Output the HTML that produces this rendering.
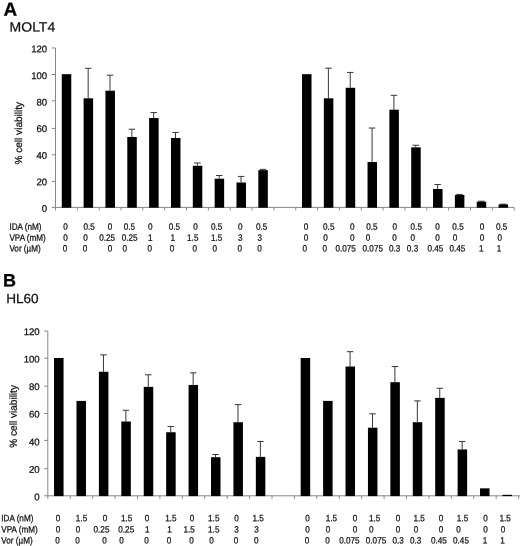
<!DOCTYPE html>
<html lang="en"><head><meta charset="utf-8"><title>Figure</title>
<style>
html,body{margin:0;padding:0;background:#fff;}
body{width:520px;height:546px;overflow:hidden;}
svg{display:block;}
text{font-family:"Liberation Sans",Arial,Helvetica,sans-serif;fill:#111;stroke:#111;stroke-width:0.25px;}
.big{font-weight:bold;fill:#000;}
</style></head><body>
<svg width="520" height="546" viewBox="0 0 520 546">
<defs><filter id="soft" x="0" y="0" width="520" height="546" filterUnits="userSpaceOnUse"><feGaussianBlur stdDeviation="0.35"/></filter></defs>
<rect width="520" height="546" fill="#fff"/>
<g filter="url(#soft)">
<text class="big" font-size="19" transform="translate(3.40 15.85) rotate(0.03) scale(1 1)">A</text>
<text font-size="13.4" transform="translate(9.60 31.55) rotate(0.03) scale(1.045 1)">MOLT4</text>
<path d="M55.5 47.95 V207.4 H514" fill="none" stroke="#868686" stroke-width="1"/>
<path d="M51.80 207.40H55.50M51.80 181.40H55.50M51.80 154.80H55.50M51.80 128.40H55.50M51.80 100.80H55.50M51.80 74.50H55.50M51.80 48.00H55.50M55.50 207.4V210.40M77.34 207.4V210.40M99.18 207.4V210.40M121.02 207.4V210.40M142.86 207.4V210.40M164.70 207.4V210.40M186.54 207.4V210.40M208.38 207.4V210.40M230.22 207.4V210.40M252.06 207.4V210.40M273.90 207.4V210.40M295.74 207.4V210.40M317.58 207.4V210.40M339.42 207.4V210.40M361.26 207.4V210.40M383.10 207.4V210.40M404.94 207.4V210.40M426.78 207.4V210.40M448.62 207.4V210.40M470.46 207.4V210.40M492.30 207.4V210.40M514.14 207.4V210.40" fill="none" stroke="#868686" stroke-width="1"/>
<text text-anchor="end" font-size="9.6" transform="translate(47.20 211.80) rotate(0.03) scale(1.0 1)">0</text>
<text text-anchor="end" font-size="9.6" transform="translate(47.20 185.23) rotate(0.03) scale(1.0 1)">20</text>
<text text-anchor="end" font-size="9.6" transform="translate(47.20 158.65) rotate(0.03) scale(1.0 1)">40</text>
<text text-anchor="end" font-size="9.6" transform="translate(47.20 132.08) rotate(0.03) scale(1.0 1)">60</text>
<text text-anchor="end" font-size="9.6" transform="translate(47.20 105.50) rotate(0.03) scale(1.0 1)">80</text>
<text text-anchor="end" font-size="9.6" transform="translate(47.20 78.93) rotate(0.03) scale(1.0 1)">100</text>
<text text-anchor="end" font-size="9.6" transform="translate(47.20 52.35) rotate(0.03) scale(1.0 1)">120</text>
<rect x="61.77" y="74.17" width="9.5" height="133.53" fill="#000"/>
<path d="M88.16 98.30V68.30M84.96 68.30H91.46" fill="none" stroke="#383838" stroke-width="1"/>
<rect x="83.61" y="98.30" width="9.5" height="109.40" fill="#000"/>
<path d="M110.00 90.70V75.23M106.80 75.23H113.30" fill="none" stroke="#383838" stroke-width="1"/>
<rect x="105.45" y="90.70" width="9.5" height="117.00" fill="#000"/>
<path d="M131.84 136.97V129.23M128.64 129.23H135.14" fill="none" stroke="#383838" stroke-width="1"/>
<rect x="127.29" y="136.97" width="9.5" height="70.73" fill="#000"/>
<path d="M153.68 118.03V112.57M150.48 112.57H156.98" fill="none" stroke="#383838" stroke-width="1"/>
<rect x="149.13" y="118.03" width="9.5" height="89.67" fill="#000"/>
<path d="M175.52 138.03V132.43M172.32 132.43H178.82" fill="none" stroke="#383838" stroke-width="1"/>
<rect x="170.97" y="138.03" width="9.5" height="69.67" fill="#000"/>
<path d="M197.36 165.77V162.97M194.16 162.97H200.66" fill="none" stroke="#383838" stroke-width="1"/>
<rect x="192.81" y="165.77" width="9.5" height="41.93" fill="#000"/>
<path d="M219.20 178.70V175.50M216.00 175.50H222.50" fill="none" stroke="#383838" stroke-width="1"/>
<rect x="214.65" y="178.70" width="9.5" height="29.00" fill="#000"/>
<path d="M241.04 182.50V176.43M237.84 176.43H244.34" fill="none" stroke="#383838" stroke-width="1"/>
<rect x="236.49" y="182.50" width="9.5" height="25.20" fill="#000"/>
<path d="M262.88 170.17V169.37M259.68 169.37H266.18" fill="none" stroke="#383838" stroke-width="1"/>
<rect x="258.33" y="170.17" width="9.5" height="37.53" fill="#000"/>
<rect x="302.01" y="74.17" width="9.5" height="133.53" fill="#000"/>
<path d="M328.40 98.30V68.17M325.20 68.17H331.70" fill="none" stroke="#383838" stroke-width="1"/>
<rect x="323.85" y="98.30" width="9.5" height="109.40" fill="#000"/>
<path d="M350.24 87.77V72.43M347.04 72.43H353.54" fill="none" stroke="#383838" stroke-width="1"/>
<rect x="345.69" y="87.77" width="9.5" height="119.93" fill="#000"/>
<path d="M372.08 162.03V128.03M368.88 128.03H375.38" fill="none" stroke="#383838" stroke-width="1"/>
<rect x="367.53" y="162.03" width="9.5" height="45.67" fill="#000"/>
<path d="M393.92 109.70V95.30M390.72 95.30H397.22" fill="none" stroke="#383838" stroke-width="1"/>
<rect x="389.37" y="109.70" width="9.5" height="98.00" fill="#000"/>
<path d="M415.76 147.37V145.23M412.56 145.23H419.06" fill="none" stroke="#383838" stroke-width="1"/>
<rect x="411.21" y="147.37" width="9.5" height="60.33" fill="#000"/>
<path d="M437.60 188.97V184.50M434.40 184.50H440.90" fill="none" stroke="#383838" stroke-width="1"/>
<rect x="433.05" y="188.97" width="9.5" height="18.73" fill="#000"/>
<path d="M459.44 194.97V194.43M456.24 194.43H462.74" fill="none" stroke="#383838" stroke-width="1"/>
<rect x="454.89" y="194.97" width="9.5" height="12.73" fill="#000"/>
<path d="M481.28 201.70V201.23M478.08 201.23H484.58" fill="none" stroke="#383838" stroke-width="1"/>
<rect x="476.73" y="201.70" width="9.5" height="6.00" fill="#000"/>
<path d="M503.12 204.43V204.17M499.92 204.17H506.42" fill="none" stroke="#383838" stroke-width="1"/>
<rect x="498.57" y="204.43" width="9.5" height="3.27" fill="#000"/>
<text font-size="9.2" transform="translate(9.40 229.75) rotate(0.03) scale(0.885 1)">IDA (nM)</text>
<text text-anchor="middle" font-size="9.2" transform="translate(65.60 229.75) rotate(0.03) scale(0.885 1)">0</text>
<text text-anchor="middle" font-size="9.2" transform="translate(89.10 229.75) rotate(0.03) scale(0.885 1)">0.5</text>
<text text-anchor="middle" font-size="9.2" transform="translate(110.00 229.75) rotate(0.03) scale(0.885 1)">0</text>
<text text-anchor="middle" font-size="9.2" transform="translate(129.40 229.75) rotate(0.03) scale(0.885 1)">0.5</text>
<text text-anchor="middle" font-size="9.2" transform="translate(150.25 229.75) rotate(0.03) scale(0.885 1)">0</text>
<text text-anchor="middle" font-size="9.2" transform="translate(174.40 229.75) rotate(0.03) scale(0.885 1)">0.5</text>
<text text-anchor="middle" font-size="9.2" transform="translate(195.40 229.75) rotate(0.03) scale(0.885 1)">0</text>
<text text-anchor="middle" font-size="9.2" transform="translate(216.60 229.75) rotate(0.03) scale(0.885 1)">0.5</text>
<text text-anchor="middle" font-size="9.2" transform="translate(240.25 229.75) rotate(0.03) scale(0.885 1)">0</text>
<text text-anchor="middle" font-size="9.2" transform="translate(261.60 229.75) rotate(0.03) scale(0.885 1)">0.5</text>
<text text-anchor="middle" font-size="9.2" transform="translate(305.90 229.75) rotate(0.03) scale(0.885 1)">0</text>
<text text-anchor="middle" font-size="9.2" transform="translate(328.75 229.75) rotate(0.03) scale(0.885 1)">0.5</text>
<text text-anchor="middle" font-size="9.2" transform="translate(352.25 229.75) rotate(0.03) scale(0.885 1)">0</text>
<text text-anchor="middle" font-size="9.2" transform="translate(371.90 229.75) rotate(0.03) scale(0.885 1)">0.5</text>
<text text-anchor="middle" font-size="9.2" transform="translate(394.75 229.75) rotate(0.03) scale(0.885 1)">0</text>
<text text-anchor="middle" font-size="9.2" transform="translate(416.25 229.75) rotate(0.03) scale(0.885 1)">0.5</text>
<text text-anchor="middle" font-size="9.2" transform="translate(437.50 229.75) rotate(0.03) scale(0.885 1)">0</text>
<text text-anchor="middle" font-size="9.2" transform="translate(458.00 229.75) rotate(0.03) scale(0.885 1)">0.5</text>
<text text-anchor="middle" font-size="9.2" transform="translate(482.00 229.75) rotate(0.03) scale(0.885 1)">0</text>
<text text-anchor="middle" font-size="9.2" transform="translate(501.70 229.75) rotate(0.03) scale(0.885 1)">0.5</text>
<text font-size="9.2" transform="translate(9.40 240.75) rotate(0.03) scale(0.885 1)">VPA (mM)</text>
<text text-anchor="middle" font-size="9.2" transform="translate(65.60 240.75) rotate(0.03) scale(0.885 1)">0</text>
<text text-anchor="middle" font-size="9.2" transform="translate(85.60 240.75) rotate(0.03) scale(0.885 1)">0</text>
<text text-anchor="middle" font-size="9.2" transform="translate(107.10 240.75) rotate(0.03) scale(0.885 1)">0.25</text>
<text text-anchor="middle" font-size="9.2" transform="translate(129.60 240.75) rotate(0.03) scale(0.885 1)">0.25</text>
<text text-anchor="middle" font-size="9.2" transform="translate(150.30 240.75) rotate(0.03) scale(0.885 1)">1</text>
<text text-anchor="middle" font-size="9.2" transform="translate(172.75 240.75) rotate(0.03) scale(0.885 1)">1</text>
<text text-anchor="middle" font-size="9.2" transform="translate(192.75 240.75) rotate(0.03) scale(0.885 1)">1.5</text>
<text text-anchor="middle" font-size="9.2" transform="translate(216.60 240.75) rotate(0.03) scale(0.885 1)">1.5</text>
<text text-anchor="middle" font-size="9.2" transform="translate(240.25 240.75) rotate(0.03) scale(0.885 1)">3</text>
<text text-anchor="middle" font-size="9.2" transform="translate(259.75 240.75) rotate(0.03) scale(0.885 1)">3</text>
<text text-anchor="middle" font-size="9.2" transform="translate(305.90 240.75) rotate(0.03) scale(0.885 1)">0</text>
<text text-anchor="middle" font-size="9.2" transform="translate(325.40 240.75) rotate(0.03) scale(0.885 1)">0</text>
<text text-anchor="middle" font-size="9.2" transform="translate(352.25 240.75) rotate(0.03) scale(0.885 1)">0</text>
<text text-anchor="middle" font-size="9.2" transform="translate(367.90 240.75) rotate(0.03) scale(0.885 1)">0</text>
<text text-anchor="middle" font-size="9.2" transform="translate(394.60 240.75) rotate(0.03) scale(0.885 1)">0</text>
<text text-anchor="middle" font-size="9.2" transform="translate(412.70 240.75) rotate(0.03) scale(0.885 1)">0</text>
<text text-anchor="middle" font-size="9.2" transform="translate(437.50 240.75) rotate(0.03) scale(0.885 1)">0</text>
<text text-anchor="middle" font-size="9.2" transform="translate(455.00 240.75) rotate(0.03) scale(0.885 1)">0</text>
<text text-anchor="middle" font-size="9.2" transform="translate(482.00 240.75) rotate(0.03) scale(0.885 1)">0</text>
<text text-anchor="middle" font-size="9.2" transform="translate(499.80 240.75) rotate(0.03) scale(0.885 1)">0</text>
<text font-size="9.2" transform="translate(9.40 251.50) rotate(0.03) scale(0.885 1)">Vor (µM)</text>
<text text-anchor="middle" font-size="9.2" transform="translate(65.00 251.50) rotate(0.03) scale(0.885 1)">0</text>
<text text-anchor="middle" font-size="9.2" transform="translate(85.00 251.50) rotate(0.03) scale(0.885 1)">0</text>
<text text-anchor="middle" font-size="9.2" transform="translate(110.00 251.50) rotate(0.03) scale(0.885 1)">0</text>
<text text-anchor="middle" font-size="9.2" transform="translate(124.70 251.50) rotate(0.03) scale(0.885 1)">0</text>
<text text-anchor="middle" font-size="9.2" transform="translate(149.75 251.50) rotate(0.03) scale(0.885 1)">0</text>
<text text-anchor="middle" font-size="9.2" transform="translate(172.10 251.50) rotate(0.03) scale(0.885 1)">0</text>
<text text-anchor="middle" font-size="9.2" transform="translate(194.75 251.50) rotate(0.03) scale(0.885 1)">0</text>
<text text-anchor="middle" font-size="9.2" transform="translate(214.75 251.50) rotate(0.03) scale(0.885 1)">0</text>
<text text-anchor="middle" font-size="9.2" transform="translate(239.75 251.50) rotate(0.03) scale(0.885 1)">0</text>
<text text-anchor="middle" font-size="9.2" transform="translate(259.60 251.50) rotate(0.03) scale(0.885 1)">0</text>
<text text-anchor="middle" font-size="9.2" transform="translate(304.75 251.50) rotate(0.03) scale(0.885 1)">0</text>
<text text-anchor="middle" font-size="9.2" transform="translate(324.75 251.50) rotate(0.03) scale(0.885 1)">0</text>
<text text-anchor="middle" font-size="9.2" transform="translate(345.60 251.50) rotate(0.03) scale(0.885 1)">0.075</text>
<text text-anchor="middle" font-size="9.2" transform="translate(372.75 251.50) rotate(0.03) scale(0.885 1)">0.075</text>
<text text-anchor="middle" font-size="9.2" transform="translate(394.60 251.50) rotate(0.03) scale(0.885 1)">0.3</text>
<text text-anchor="middle" font-size="9.2" transform="translate(412.50 251.50) rotate(0.03) scale(0.885 1)">0.3</text>
<text text-anchor="middle" font-size="9.2" transform="translate(435.30 251.50) rotate(0.03) scale(0.885 1)">0.45</text>
<text text-anchor="middle" font-size="9.2" transform="translate(457.30 251.50) rotate(0.03) scale(0.885 1)">0.45</text>
<text text-anchor="middle" font-size="9.2" transform="translate(481.30 251.50) rotate(0.03) scale(0.885 1)">1</text>
<text text-anchor="middle" font-size="9.2" transform="translate(498.90 251.50) rotate(0.03) scale(0.885 1)">1</text>
<text text-anchor="middle" font-size="10.2" transform="translate(22.1 133.2) rotate(-89.97) scale(0.99 1)">% cell viability</text>
<text class="big" font-size="18" transform="translate(3.10 286.55) rotate(0.03) scale(1 1)">B</text>
<text font-size="13.2" transform="translate(6.20 303.00) rotate(0.03) scale(1.03 1)">HL60</text>
<path d="M47.8 331 V495.8 H520" fill="none" stroke="#868686" stroke-width="1"/>
<path d="M44.10 495.80H47.80M44.10 468.70H47.80M44.10 440.40H47.80M44.10 413.50H47.80M44.10 386.20H47.80M44.10 358.20H47.80M44.10 331.00H47.80M47.80 495.8V498.80M70.22 495.8V498.80M92.64 495.8V498.80M115.06 495.8V498.80M137.48 495.8V498.80M159.90 495.8V498.80M182.32 495.8V498.80M204.74 495.8V498.80M227.16 495.8V498.80M249.58 495.8V498.80M272.00 495.8V498.80M294.42 495.8V498.80M316.84 495.8V498.80M339.26 495.8V498.80M361.68 495.8V498.80M384.10 495.8V498.80M406.52 495.8V498.80M428.94 495.8V498.80M451.36 495.8V498.80M473.78 495.8V498.80M496.20 495.8V498.80M518.62 495.8V498.80" fill="none" stroke="#868686" stroke-width="1"/>
<text text-anchor="end" font-size="9.6" transform="translate(39.70 500.20) rotate(0.03) scale(1.0 1)">0</text>
<text text-anchor="end" font-size="9.6" transform="translate(39.70 472.68) rotate(0.03) scale(1.0 1)">20</text>
<text text-anchor="end" font-size="9.6" transform="translate(39.70 445.15) rotate(0.03) scale(1.0 1)">40</text>
<text text-anchor="end" font-size="9.6" transform="translate(39.70 417.62) rotate(0.03) scale(1.0 1)">60</text>
<text text-anchor="end" font-size="9.6" transform="translate(39.70 390.10) rotate(0.03) scale(1.0 1)">80</text>
<text text-anchor="end" font-size="9.6" transform="translate(39.70 362.57) rotate(0.03) scale(1.0 1)">100</text>
<text text-anchor="end" font-size="9.6" transform="translate(39.70 335.05) rotate(0.03) scale(1.0 1)">120</text>
<rect x="54.06" y="358.00" width="9.5" height="138.10" fill="#000"/>
<rect x="76.48" y="400.90" width="9.5" height="95.20" fill="#000"/>
<path d="M103.45 371.75V354.84M100.25 354.84H106.75" fill="none" stroke="#383838" stroke-width="1"/>
<rect x="98.90" y="371.75" width="9.5" height="124.35" fill="#000"/>
<path d="M125.87 421.52V410.25M122.67 410.25H129.17" fill="none" stroke="#383838" stroke-width="1"/>
<rect x="121.32" y="421.52" width="9.5" height="74.58" fill="#000"/>
<path d="M148.29 386.88V374.77M145.09 374.77H151.59" fill="none" stroke="#383838" stroke-width="1"/>
<rect x="143.74" y="386.88" width="9.5" height="109.23" fill="#000"/>
<path d="M170.71 432.25V426.48M167.51 426.48H174.01" fill="none" stroke="#383838" stroke-width="1"/>
<rect x="166.16" y="432.25" width="9.5" height="63.85" fill="#000"/>
<path d="M193.13 384.95V372.85M189.93 372.85H196.43" fill="none" stroke="#383838" stroke-width="1"/>
<rect x="188.58" y="384.95" width="9.5" height="111.15" fill="#000"/>
<path d="M215.55 457.21V454.52M212.35 454.52H218.85" fill="none" stroke="#383838" stroke-width="1"/>
<rect x="211.00" y="457.21" width="9.5" height="38.89" fill="#000"/>
<path d="M237.97 422.21V404.61M234.77 404.61H241.27" fill="none" stroke="#383838" stroke-width="1"/>
<rect x="233.42" y="422.21" width="9.5" height="73.89" fill="#000"/>
<path d="M260.39 456.86V441.46M257.19 441.46H263.69" fill="none" stroke="#383838" stroke-width="1"/>
<rect x="255.84" y="456.86" width="9.5" height="39.24" fill="#000"/>
<rect x="300.68" y="358.00" width="9.5" height="138.10" fill="#000"/>
<rect x="323.10" y="400.90" width="9.5" height="95.20" fill="#000"/>
<path d="M350.07 366.52V351.68M346.87 351.68H353.37" fill="none" stroke="#383838" stroke-width="1"/>
<rect x="345.52" y="366.52" width="9.5" height="129.58" fill="#000"/>
<path d="M372.49 427.71V413.82M369.29 413.82H375.79" fill="none" stroke="#383838" stroke-width="1"/>
<rect x="367.94" y="427.71" width="9.5" height="68.39" fill="#000"/>
<path d="M394.91 382.20V366.52M391.71 366.52H398.21" fill="none" stroke="#383838" stroke-width="1"/>
<rect x="390.36" y="382.20" width="9.5" height="113.90" fill="#000"/>
<path d="M417.33 422.21V400.90M414.13 400.90H420.63" fill="none" stroke="#383838" stroke-width="1"/>
<rect x="412.78" y="422.21" width="9.5" height="73.89" fill="#000"/>
<path d="M439.75 397.88V388.25M436.55 388.25H443.05" fill="none" stroke="#383838" stroke-width="1"/>
<rect x="435.20" y="397.88" width="9.5" height="98.23" fill="#000"/>
<path d="M462.17 449.44V441.46M458.97 441.46H465.47" fill="none" stroke="#383838" stroke-width="1"/>
<rect x="457.62" y="449.44" width="9.5" height="46.66" fill="#000"/>
<rect x="480.04" y="488.35" width="9.5" height="7.75" fill="#000"/>
<rect x="502.46" y="494.81" width="9.5" height="1.29" fill="#000"/>
<text font-size="9.2" transform="translate(1.30 521.30) rotate(0.03) scale(0.885 1)">IDA (nM)</text>
<text text-anchor="middle" font-size="9.2" transform="translate(58.10 521.30) rotate(0.03) scale(0.885 1)">0</text>
<text text-anchor="middle" font-size="9.2" transform="translate(81.50 521.30) rotate(0.03) scale(0.885 1)">1.5</text>
<text text-anchor="middle" font-size="9.2" transform="translate(105.00 521.30) rotate(0.03) scale(0.885 1)">0</text>
<text text-anchor="middle" font-size="9.2" transform="translate(126.60 521.30) rotate(0.03) scale(0.885 1)">1.5</text>
<text text-anchor="middle" font-size="9.2" transform="translate(147.10 521.30) rotate(0.03) scale(0.885 1)">0</text>
<text text-anchor="middle" font-size="9.2" transform="translate(170.90 521.30) rotate(0.03) scale(0.885 1)">1.5</text>
<text text-anchor="middle" font-size="9.2" transform="translate(192.10 521.30) rotate(0.03) scale(0.885 1)">0</text>
<text text-anchor="middle" font-size="9.2" transform="translate(213.75 521.30) rotate(0.03) scale(0.885 1)">1.5</text>
<text text-anchor="middle" font-size="9.2" transform="translate(236.40 521.30) rotate(0.03) scale(0.885 1)">0</text>
<text text-anchor="middle" font-size="9.2" transform="translate(258.10 521.30) rotate(0.03) scale(0.885 1)">1.5</text>
<text text-anchor="middle" font-size="9.2" transform="translate(307.50 521.30) rotate(0.03) scale(0.885 1)">0</text>
<text text-anchor="middle" font-size="9.2" transform="translate(331.40 521.30) rotate(0.03) scale(0.885 1)">1.5</text>
<text text-anchor="middle" font-size="9.2" transform="translate(355.00 521.30) rotate(0.03) scale(0.885 1)">0</text>
<text text-anchor="middle" font-size="9.2" transform="translate(374.60 521.30) rotate(0.03) scale(0.885 1)">1.5</text>
<text text-anchor="middle" font-size="9.2" transform="translate(397.90 521.30) rotate(0.03) scale(0.885 1)">0</text>
<text text-anchor="middle" font-size="9.2" transform="translate(419.20 521.30) rotate(0.03) scale(0.885 1)">1.5</text>
<text text-anchor="middle" font-size="9.2" transform="translate(441.00 521.30) rotate(0.03) scale(0.885 1)">0</text>
<text text-anchor="middle" font-size="9.2" transform="translate(462.50 521.30) rotate(0.03) scale(0.885 1)">1.5</text>
<text text-anchor="middle" font-size="9.2" transform="translate(485.40 521.30) rotate(0.03) scale(0.885 1)">0</text>
<text text-anchor="middle" font-size="9.2" transform="translate(505.20 521.30) rotate(0.03) scale(0.885 1)">1.5</text>
<text font-size="9.2" transform="translate(1.30 532.60) rotate(0.03) scale(0.885 1)">VPA (mM)</text>
<text text-anchor="middle" font-size="9.2" transform="translate(58.10 532.60) rotate(0.03) scale(0.885 1)">0</text>
<text text-anchor="middle" font-size="9.2" transform="translate(78.10 532.60) rotate(0.03) scale(0.885 1)">0</text>
<text text-anchor="middle" font-size="9.2" transform="translate(101.50 532.60) rotate(0.03) scale(0.885 1)">0.25</text>
<text text-anchor="middle" font-size="9.2" transform="translate(126.25 532.60) rotate(0.03) scale(0.885 1)">0.25</text>
<text text-anchor="middle" font-size="9.2" transform="translate(147.25 532.60) rotate(0.03) scale(0.885 1)">1</text>
<text text-anchor="middle" font-size="9.2" transform="translate(169.40 532.60) rotate(0.03) scale(0.885 1)">1</text>
<text text-anchor="middle" font-size="9.2" transform="translate(189.10 532.60) rotate(0.03) scale(0.885 1)">1.5</text>
<text text-anchor="middle" font-size="9.2" transform="translate(213.75 532.60) rotate(0.03) scale(0.885 1)">1.5</text>
<text text-anchor="middle" font-size="9.2" transform="translate(236.40 532.60) rotate(0.03) scale(0.885 1)">3</text>
<text text-anchor="middle" font-size="9.2" transform="translate(256.50 532.60) rotate(0.03) scale(0.885 1)">3</text>
<text text-anchor="middle" font-size="9.2" transform="translate(307.50 532.60) rotate(0.03) scale(0.885 1)">0</text>
<text text-anchor="middle" font-size="9.2" transform="translate(327.90 532.60) rotate(0.03) scale(0.885 1)">0</text>
<text text-anchor="middle" font-size="9.2" transform="translate(355.00 532.60) rotate(0.03) scale(0.885 1)">0</text>
<text text-anchor="middle" font-size="9.2" transform="translate(371.25 532.60) rotate(0.03) scale(0.885 1)">0</text>
<text text-anchor="middle" font-size="9.2" transform="translate(397.90 532.60) rotate(0.03) scale(0.885 1)">0</text>
<text text-anchor="middle" font-size="9.2" transform="translate(416.00 532.60) rotate(0.03) scale(0.885 1)">0</text>
<text text-anchor="middle" font-size="9.2" transform="translate(441.00 532.60) rotate(0.03) scale(0.885 1)">0</text>
<text text-anchor="middle" font-size="9.2" transform="translate(458.50 532.60) rotate(0.03) scale(0.885 1)">0</text>
<text text-anchor="middle" font-size="9.2" transform="translate(485.40 532.60) rotate(0.03) scale(0.885 1)">0</text>
<text text-anchor="middle" font-size="9.2" transform="translate(502.90 532.60) rotate(0.03) scale(0.885 1)">0</text>
<text font-size="9.2" transform="translate(1.30 543.50) rotate(0.03) scale(0.885 1)">Vor (µM)</text>
<text text-anchor="middle" font-size="9.2" transform="translate(57.50 543.50) rotate(0.03) scale(0.885 1)">0</text>
<text text-anchor="middle" font-size="9.2" transform="translate(77.60 543.50) rotate(0.03) scale(0.885 1)">0</text>
<text text-anchor="middle" font-size="9.2" transform="translate(104.40 543.50) rotate(0.03) scale(0.885 1)">0</text>
<text text-anchor="middle" font-size="9.2" transform="translate(121.50 543.50) rotate(0.03) scale(0.885 1)">0</text>
<text text-anchor="middle" font-size="9.2" transform="translate(146.60 543.50) rotate(0.03) scale(0.885 1)">0</text>
<text text-anchor="middle" font-size="9.2" transform="translate(169.10 543.50) rotate(0.03) scale(0.885 1)">0</text>
<text text-anchor="middle" font-size="9.2" transform="translate(191.40 543.50) rotate(0.03) scale(0.885 1)">0</text>
<text text-anchor="middle" font-size="9.2" transform="translate(211.60 543.50) rotate(0.03) scale(0.885 1)">0</text>
<text text-anchor="middle" font-size="9.2" transform="translate(236.00 543.50) rotate(0.03) scale(0.885 1)">0</text>
<text text-anchor="middle" font-size="9.2" transform="translate(256.25 543.50) rotate(0.03) scale(0.885 1)">0</text>
<text text-anchor="middle" font-size="9.2" transform="translate(307.10 543.50) rotate(0.03) scale(0.885 1)">0</text>
<text text-anchor="middle" font-size="9.2" transform="translate(327.50 543.50) rotate(0.03) scale(0.885 1)">0</text>
<text text-anchor="middle" font-size="9.2" transform="translate(349.40 543.50) rotate(0.03) scale(0.885 1)">0.075</text>
<text text-anchor="middle" font-size="9.2" transform="translate(376.00 543.50) rotate(0.03) scale(0.885 1)">0.075</text>
<text text-anchor="middle" font-size="9.2" transform="translate(398.20 543.50) rotate(0.03) scale(0.885 1)">0.3</text>
<text text-anchor="middle" font-size="9.2" transform="translate(415.70 543.50) rotate(0.03) scale(0.885 1)">0.3</text>
<text text-anchor="middle" font-size="9.2" transform="translate(438.80 543.50) rotate(0.03) scale(0.885 1)">0.45</text>
<text text-anchor="middle" font-size="9.2" transform="translate(461.00 543.50) rotate(0.03) scale(0.885 1)">0.45</text>
<text text-anchor="middle" font-size="9.2" transform="translate(485.00 543.50) rotate(0.03) scale(0.885 1)">1</text>
<text text-anchor="middle" font-size="9.2" transform="translate(502.50 543.50) rotate(0.03) scale(0.885 1)">1</text>
<text text-anchor="middle" font-size="10.2" transform="translate(16.7 416.4) rotate(-89.97) scale(0.99 1)">% cell viability</text>
</g>
</svg>
</body></html>
